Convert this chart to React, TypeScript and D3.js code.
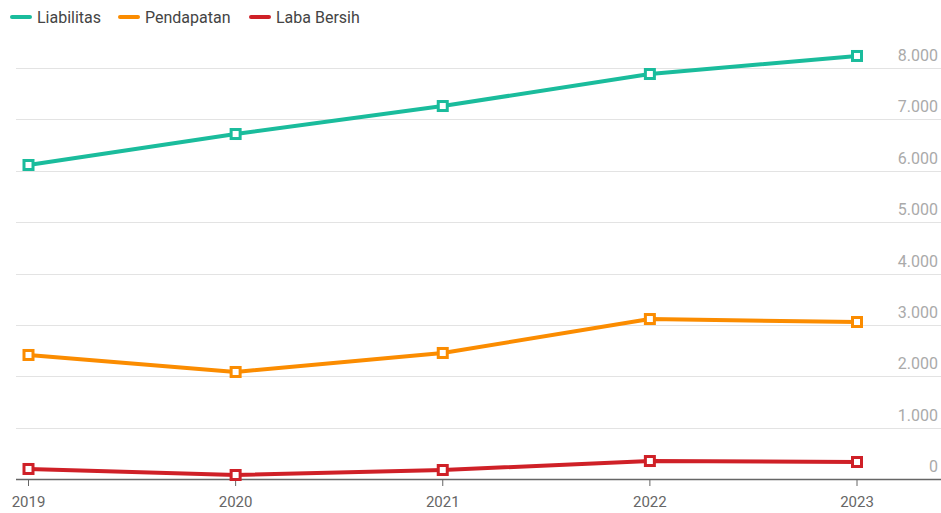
import React, { useEffect, useRef } from 'react';
import * as d3 from 'd3';

const years = ['2019', '2020', '2021', '2022', '2023'];
const liabilitas = [6112, 6715, 7260, 7883, 8234];
const pendapatan = [2414, 2083, 2453, 3114, 3056];
const labaBersih = [195, 78, 175, 350, 331];
const yTicks = [0, 1000, 2000, 3000, 4000, 5000, 6000, 7000, 8000];

const seriesNames = ['Liabilitas', 'Pendapatan', 'Laba Bersih'];
const seriesColors = ['#1abc9c', '#fb8c00', '#cf2027'];

const W = 941;
const H = 513;

const App = () => {
  const ref = useRef<SVGSVGElement>(null);

  useEffect(() => {
    const svg = d3.select(ref.current);
    svg.selectAll('*').remove();

    const x = d3.scalePoint().domain(years).range([28.5, 857]);
    const y = d3.scaleLinear().domain([0, 8000]).range([479, 68]);
    const fmt = (v: number) => d3.format(',')(v).replace(/,/g, '.');

    // grid
    svg.append('g')
      .selectAll('line')
      .data(yTicks.filter(t => t > 0))
      .enter()
      .append('line')
      .attr('x1', 16)
      .attr('x2', W)
      .attr('y1', d => Math.round(y(d)) + 0.5)
      .attr('y2', d => Math.round(y(d)) + 0.5)
      .style('stroke', '#e3e3e3')
      .style('stroke-width', 1);

    // y labels
    svg.append('g')
      .selectAll('text')
      .data(yTicks)
      .enter()
      .append('text')
      .attr('x', 938)
      .attr('y', d => y(d) - 7)
      .attr('text-anchor', 'end')
      .style('font-family', 'Roboto, sans-serif')
      .style('font-size', '16px')
      .style('fill', '#aaaaaa')
      .text(d => fmt(d));

    // x axis
    svg.append('line')
      .attr('x1', 16)
      .attr('x2', W)
      .attr('y1', 479.5)
      .attr('y2', 479.5)
      .style('stroke', '#666')
      .style('stroke-width', 1.5);

    const xg = svg.append('g');
    years.forEach(yr => {
      xg.append('line')
        .attr('x1', x(yr)!)
        .attr('x2', x(yr)!)
        .attr('y1', 479)
        .attr('y2', 486)
        .style('stroke', '#666')
        .style('stroke-width', 1);
      xg.append('text')
        .attr('x', x(yr)!)
        .attr('y', 507)
        .attr('text-anchor', 'middle')
        .style('font-family', 'Roboto, sans-serif')
        .style('font-size', '15px')
        .style('fill', '#666')
        .text(yr);
    });

    // lines
    const allSeries = [liabilitas, pendapatan, labaBersih];
    const line = d3.line<number>()
      .x((_, i) => x(years[i])!)
      .y(d => y(d));

    allSeries.forEach((vals, si) => {
      const g = svg.append('g');
      g.append('path')
        .datum(vals)
        .attr('d', line)
        .style('fill', 'none')
        .style('stroke', seriesColors[si])
        .style('stroke-width', 4)
        .style('stroke-linejoin', 'round');
      g.selectAll('rect')
        .data(vals)
        .enter()
        .append('rect')
        .attr('x', (_, i) => x(years[i])! - 4.5)
        .attr('y', d => y(d) - 4.5)
        .attr('width', 9)
        .attr('height', 9)
        .style('fill', '#fff')
        .style('stroke', seriesColors[si])
        .style('stroke-width', 3);
    });

    // legend
    const legendX = [10, 118, 249];
    seriesNames.forEach((name, i) => {
      svg.append('line')
        .attr('x1', legendX[i] + 2)
        .attr('x2', legendX[i] + 20)
        .attr('y1', 17)
        .attr('y2', 17)
        .style('stroke', seriesColors[i])
        .style('stroke-width', 4)
        .style('stroke-linecap', 'round');
      svg.append('text')
        .attr('x', legendX[i] + 27)
        .attr('y', 23)
        .style('font-family', 'Roboto, sans-serif')
        .style('font-size', '16px')
        .style('fill', '#444')
        .text(name);
    });
  }, []);

  return (
    <svg ref={ref} width={W} height={H} style={{ position: 'absolute', left: 0, top: 0 }} />
  );
};

export default App;
